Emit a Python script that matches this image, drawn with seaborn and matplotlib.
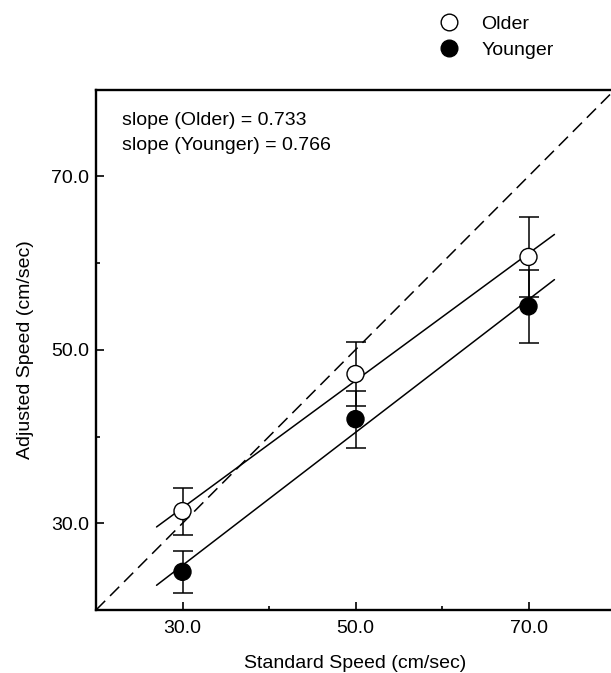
import numpy as np
import pandas as pd
import matplotlib
matplotlib.use('Agg')
import matplotlib.pyplot as plt
from matplotlib.lines import Line2D
import seaborn as sns

# Dados
speeds = [30, 50, 70]
older_mean = [31.4, 47.2, 60.7]
older_err = [2.7, 3.7, 4.65]
younger_mean = [24.4, 42.0, 55.0]
younger_err = [2.4, 3.3, 4.2]
slope_older = 0.733
slope_younger = 0.766
fit_x = [27, 73]
identity = [20, 80]

df = pd.DataFrame({
    'speed': speeds * 2,
    'adjusted': older_mean + younger_mean,
    'err': older_err + younger_err,
    'group': ['Older'] * 3 + ['Younger'] * 3,
})

sns.set_style('ticks')
plt.rcParams['font.family'] = ['Liberation Sans', 'DejaVu Sans']
plt.rcParams['font.size'] = 14
plt.rcParams['text.color'] = 'black'
plt.rcParams['axes.labelcolor'] = 'black'
plt.rcParams['xtick.color'] = 'black'
plt.rcParams['ytick.color'] = 'black'

fig = plt.figure(figsize=(6.11, 6.73), dpi=100)
ax = fig.add_axes([96 / 611, 63 / 673, 519 / 611, 520.5 / 673])

# linha identidade
sns.lineplot(x=identity, y=identity, ax=ax, color='black', lw=1.1,
             linestyle=(0, (8.5, 4.5)), zorder=1)

# retas de regressão (inclinação dada, passando pela média)
for grp, slope in [('Older', slope_older), ('Younger', slope_younger)]:
    sub = df[df.group == grp]
    b = sub.adjusted.mean() - slope * sub.speed.mean()
    xs = np.array(fit_x)
    sns.lineplot(x=xs, y=b + slope * xs, ax=ax, color='black', lw=1.1, zorder=2)

# barras de erro
for grp in ['Older', 'Younger']:
    sub = df[df.group == grp]
    ax.errorbar(sub.speed, sub.adjusted, yerr=sub.err, fmt='none',
                ecolor='black', elinewidth=1.1, capsize=7, capthick=1.1, zorder=3)

sns.scatterplot(data=df, x='speed', y='adjusted', hue='group',
                palette={'Older': 'white', 'Younger': 'black'},
                edgecolor='black', linewidth=1.0, s=150, ax=ax,
                legend=False, zorder=4)

ax.set_xlim(20, 80)
ax.set_ylim(20, 80)
ax.set_xticks([30, 50, 70])
ax.set_yticks([30, 50, 70])
ax.set_xticks([40, 60], minor=True)
ax.set_yticks([40, 60], minor=True)
ax.set_xticklabels(['30.0', '50.0', '70.0'])
ax.set_yticklabels(['30.0', '50.0', '70.0'])
ax.tick_params(which='major', direction='in', length=6, width=1.2, labelsize=14,
               color='black', labelcolor='black')
ax.tick_params(axis='x', which='major', pad=7)
ax.tick_params(axis='y', which='major', pad=5)
ax.tick_params(which='minor', direction='in', length=3, width=1.2, color='black')
for sp in ax.spines.values():
    sp.set_linewidth(1.7)
    sp.set_color('black')

ax.set_xlabel('Standard Speed (cm/sec)', fontsize=14, labelpad=13, color='black')
ax.set_ylabel('Adjusted Speed (cm/sec)', fontsize=14, labelpad=12, color='black')

ax.text(0.05, 0.957, 'slope (Older) = 0.733\nslope (Younger) = 0.766',
        transform=ax.transAxes, ha='left', va='top', fontsize=14,
        linespacing=1.62, color='black')

handles = [
    Line2D([], [], marker='o', ls='none', markersize=12, markerfacecolor='white',
           markeredgecolor='black', markeredgewidth=1.0),
    Line2D([], [], marker='o', ls='none', markersize=12, markerfacecolor='black',
           markeredgecolor='black', markeredgewidth=1.0),
]
fig.legend(handles, ['Older', 'Younger'], loc='upper left',
           bbox_to_anchor=(439.3 / 611, 1 - 15 / 673), frameon=False,
           borderpad=0, borderaxespad=0, handlelength=1.0, handletextpad=1.15,
           labelspacing=0.46, fontsize=14, labelcolor='black')

fig.savefig('out.png', dpi=100)
